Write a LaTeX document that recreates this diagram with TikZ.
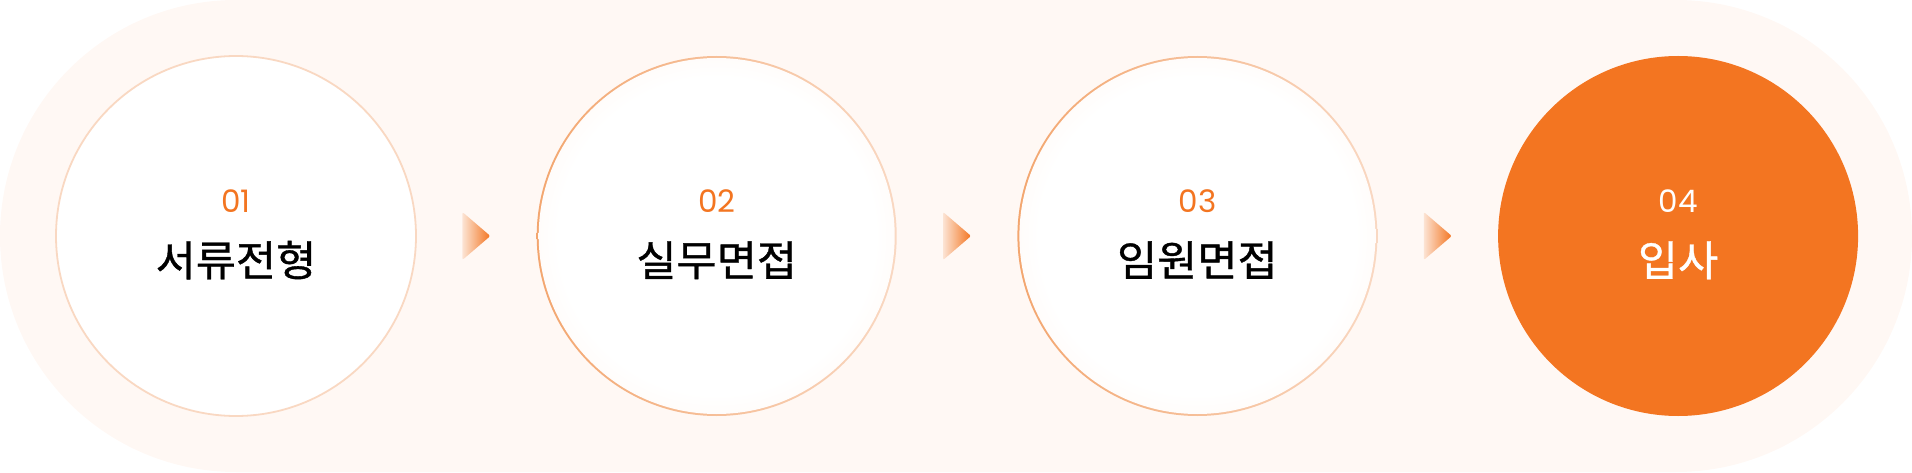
\documentclass[tikz,border=0pt]{standalone}
\usepackage{fontspec}
\setmainfont{Noto Sans CJK KR}
\newfontfamily\titlefont{Noto Sans CJK KR}[FakeBold=0.9, FakeStretch=1.04]
\newfontfamily\numfont{Poppins}
\usetikzlibrary{positioning,calc}

\definecolor{accent}{HTML}{F37521}
\definecolor{bgpeach}{HTML}{FFF8F4}
\definecolor{ringpale}{HTML}{F9D8C2}
\definecolor{ringwarm}{HTML}{F3A66F}
\definecolor{glow}{HTML}{FBDAC3}
\definecolor{tippale}{HTML}{FCE4D4}

\pgfdeclareradialshading{bubblefill}{\pgfpoint{0bp}{0bp}}{color(0bp)=(white); color(22bp)=(white); color(40bp)=(glow!50!white); color(50bp)=(glow)}

\begin{document}
\begin{tikzpicture}[x=1pt, y=1pt, node distance=120.7pt]

		\tikzstyle{plainstep}=[circle, minimum size=360pt, inner sep=0pt, outer sep=0pt,
		draw=ringpale, line width=1.8pt, fill=white]
		\tikzstyle{bubblestep}=[circle, minimum size=360pt, inner sep=0pt, outer sep=0pt,
		left color=ringwarm, right color=ringpale,
		path picture={\shade[shading=bubblefill] (path picture bounding box.center) circle (178pt);}]
		\tikzstyle{donestep}=[circle, minimum size=360pt, inner sep=0pt, outer sep=0pt, fill=accent]
		\tikzstyle{stepnum}=[font=\numfont\fontsize{31}{31}\selectfont, text=accent, anchor=base]
		\tikzstyle{steptitle}=[font=\titlefont\fontsize{42}{42}\selectfont, anchor=base]
		\tikzstyle{chevron}=[left color=tippale, right color=accent, rounded corners=2pt]

		% Background band
		\useasboundingbox (0,0) rectangle (1912,472);
		\fill[bgpeach, rounded corners=236pt] (0,0) rectangle (1912,472);

		% Steps
		\node[plainstep] (s1) at (236,236) {};
		\node[bubblestep, right=of s1] (s2) {};
		\node[bubblestep, right=of s2] (s3) {};
		\node[donestep, right=of s3] (s4) {};

		% Labels
		\node[stepnum] (n1) at ([yshift=23pt]s1.center) {01};
		\node[steptitle] (t1) at ([yshift=-40pt]s1.center) {서류전형};
		\node[stepnum] (n2) at ([yshift=23pt]s2.center) {02};
		\node[steptitle] (t2) at ([yshift=-40pt]s2.center) {실무면접};
		\node[stepnum] (n3) at ([yshift=23pt]s3.center) {03};
		\node[steptitle] (t3) at ([yshift=-40pt]s3.center) {임원면접};
		\node[stepnum, text=white] (n4) at ([yshift=23pt]s4.center) {04};
		\node[steptitle, text=white] (t4) at ([yshift=-40pt]s4.center) {입사};

		% Arrows
		\coordinate (a1) at ($(s1.east)!0.5!(s2.west)$);
		\coordinate (a2) at ($(s2.east)!0.5!(s3.west)$);
		\coordinate (a3) at ($(s3.east)!0.5!(s4.west)$);
		\shade[chevron] ([shift={(-14,24)}]a1) -- ([shift={(14,0)}]a1) -- ([shift={(-14,-24)}]a1) -- cycle;
		\shade[chevron] ([shift={(-14,24)}]a2) -- ([shift={(14,0)}]a2) -- ([shift={(-14,-24)}]a2) -- cycle;
		\shade[chevron] ([shift={(-14,24)}]a3) -- ([shift={(14,0)}]a3) -- ([shift={(-14,-24)}]a3) -- cycle;

		\end{tikzpicture}
\end{document}
